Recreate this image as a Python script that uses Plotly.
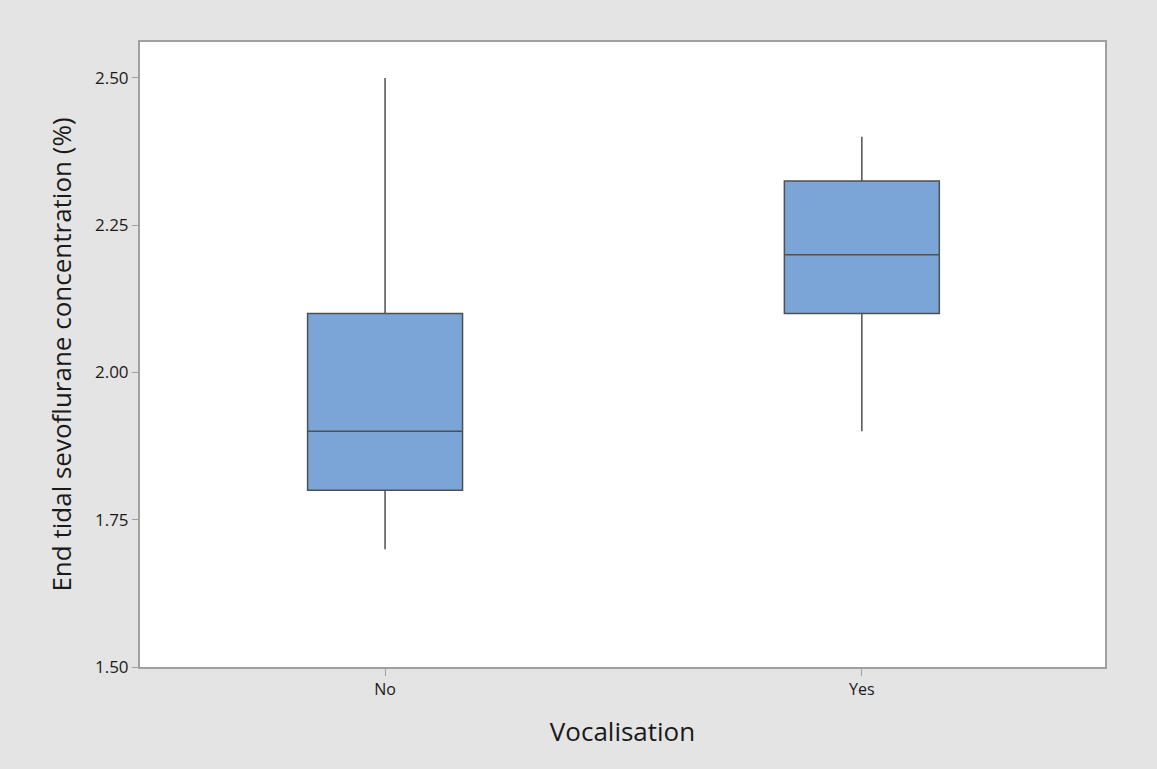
import plotly.graph_objects as go

categories = ["No", "Yes"]
q1 = [1.80, 2.10]
median = [1.90, 2.20]
q3 = [2.10, 2.325]
lower = [1.70, 1.90]
upper = [2.50, 2.40]
y_ticks = [1.50, 1.75, 2.00, 2.25, 2.50]

fig = go.Figure()
fig.add_trace(go.Box(
    x=categories, q1=q1, median=median, q3=q3,
    lowerfence=lower, upperfence=upper,
    fillcolor="#7BA5D7", line=dict(color="#505050", width=1.5),
    width=0.325, whiskerwidth=0, boxpoints=False, hoverinfo="skip", showlegend=False,
))

font = "Open Sans, Noto Sans, sans-serif"
fig.update_layout(
    width=1157, height=769,
    paper_bgcolor="#E4E4E4", plot_bgcolor="#FFFFFF",
    margin=dict(l=140, r=52, t=42, b=102),
    font=dict(family=font, color="#1A1A1A"),
)
fig.update_xaxes(
    type="category", range=[-0.514, 1.51],
    showline=True, mirror=True, linecolor="#A0A0A0", linewidth=2,
    ticks="outside", ticklen=7, tickcolor="#A0A0A0",
    tickfont=dict(size=16), showgrid=False, zeroline=False,
    title=dict(text="Vocalisation", font=dict(size=26), standoff=24),
)
fig.update_yaxes(
    range=[1.5, 2.561], tickvals=y_ticks,
    ticktext=[f"{v:.2f}" for v in y_ticks],
    showline=True, mirror=True, linecolor="#A0A0A0", linewidth=2,
    ticks="outside", ticklen=6, tickcolor="#A0A0A0",
    tickfont=dict(size=17), showgrid=False, zeroline=False,
    title=dict(text="End tidal sevoflurane concentration (%)", font=dict(size=26), standoff=16),
)
fig.write_html("out.html", config={"displayModeBar": False},
               post_script="document.body.style.margin='0';document.body.style.padding='0';")
